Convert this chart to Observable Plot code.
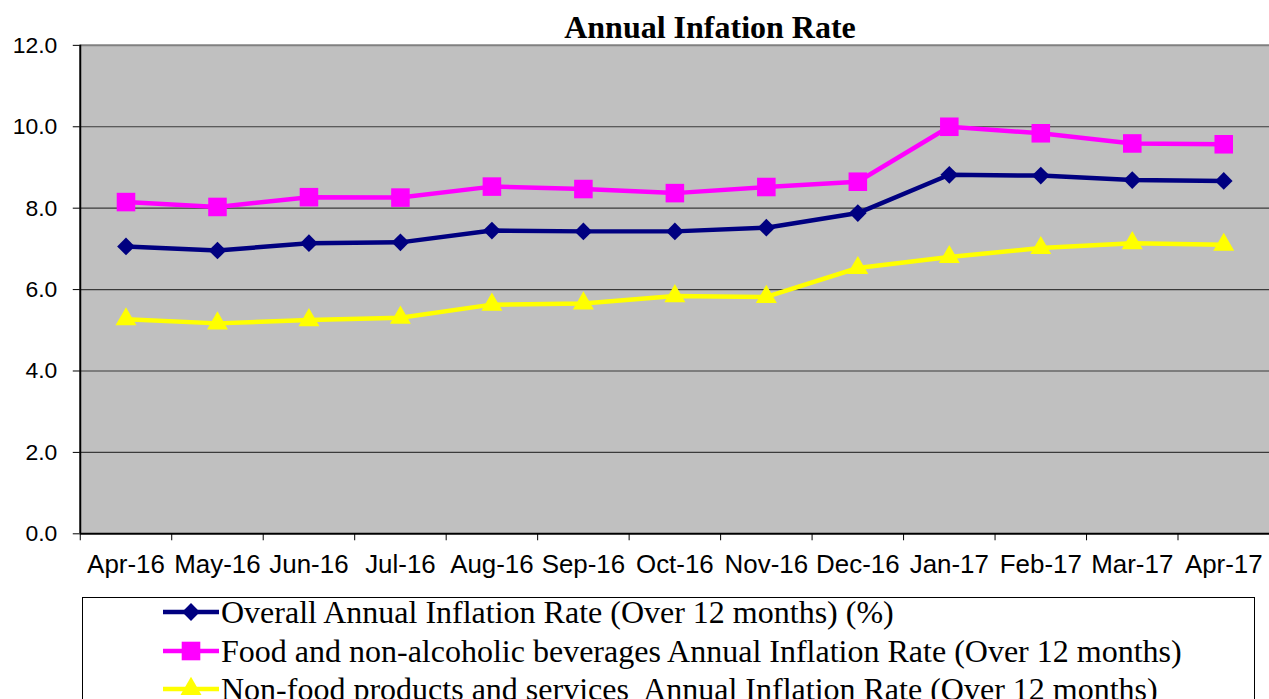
<!DOCTYPE html>
<html>
<head>
<meta charset="utf-8">
<script src="https://cdn.jsdelivr.net/npm/d3@7"></script>
<script src="https://cdn.jsdelivr.net/npm/@observablehq/plot@0.6"></script>
<style>
  html, body { margin: 0; padding: 0; background: #fff; overflow: hidden; width: 1269px; height: 699px; }
  #wrap { position: relative; width: 1269px; height: 699px; }
  #title { position: absolute; left: 0; top: 9px; width: 1420px; text-align: center;
    font-family: "Liberation Serif", "Times New Roman", serif; font-weight: bold; font-size: 32px; color: #000; line-height: 36px; }
  #chart { position: absolute; left: 0; top: 0; }
  #legend { position: absolute; left: 82px; top: 597px; width: 1173px; height: 120px;
    border: 1px solid #000; box-sizing: border-box; background: #fff; }
  .row { position: absolute; left: 80px; height: 38px; display: flex; align-items: center; white-space: nowrap;
    font-family: "Liberation Serif", "Times New Roman", serif; font-size: 32px; color: #000; }
  .row svg { margin-right: 2px; }
</style>
</head>
<body>
<div id="wrap">
  <div id="chart"></div>
  <div id="title">Annual Infation Rate</div>
  <div id="legend"></div>
</div>
<script>
const months = ["Apr-16","May-16","Jun-16","Jul-16","Aug-16","Sep-16","Oct-16","Nov-16","Dec-16","Jan-17","Feb-17","Mar-17","Apr-17"];
const overall = [7.06,6.96,7.14,7.16,7.45,7.43,7.43,7.52,7.88,8.82,8.80,8.69,8.67];
const food    = [8.15,8.03,8.27,8.26,8.53,8.47,8.37,8.52,8.65,10.00,9.84,9.59,9.57];
const nonfood = [5.27,5.17,5.25,5.31,5.63,5.66,5.84,5.82,6.53,6.80,7.02,7.14,7.10];
const seriesNames = [
  "Overall Annual Inflation Rate (Over 12 months) (%)",
  "Food and non-alcoholic beverages Annual Inflation Rate (Over 12 months)",
  "Non-food products and services  Annual Inflation Rate (Over 12 months)"
];
const yTicks = [0, 2, 4, 6, 8, 10, 12];

const colors = ["#000080", "#ff00ff", "#ffff00"];
const symbols = ["diamond2", "square", "triangle"];
const radii = [8, 10.5, 7.8];
const d3symbols = [d3.symbolDiamond2, d3.symbolSquare, d3.symbolTriangle];

const allSeries = [overall, food, nonfood];
const idx = months.map((m, i) => i);
const bounds = months.map((m, i) => i - 0.5).concat([months.length - 0.5]);

const lineMarks = [];
allSeries.forEach((vals, s) => {
  const data = vals.map((v, i) => ({i, v}));
  lineMarks.push(Plot.line(data, {x: "i", y: "v", stroke: colors[s], strokeWidth: 4.5, strokeLinejoin: "round"}));
  lineMarks.push(Plot.dot(data, {x: "i", y: "v", fill: colors[s], stroke: "none", symbol: symbols[s], r: radii[s]}));
});

const chart = Plot.plot({
  width: 1273,
  height: 580,
  marginTop: 45,
  marginBottom: 45,
  marginLeft: 80,
  marginRight: 0,
  style: {fontFamily: "'Liberation Sans', Arial, sans-serif", fontSize: "23px", color: "#000", background: "transparent", overflow: "visible"},
  x: {type: "linear", domain: [-0.5, months.length - 0.5], axis: null},
  y: {domain: [0, 12], axis: null},
  marks: [
    Plot.frame({fill: "#c0c0c0", stroke: null}),
    Plot.gridY(yTicks.filter(t => t > 0 && t < 12), {stroke: "#3a3a3a", strokeOpacity: 1, strokeWidth: 1.2}),
    Plot.ruleY([12], {stroke: "#808080", strokeWidth: 2}),
    Plot.axisY(yTicks, {label: null, tickSize: 7, tickPadding: 16, tickFormat: d3.format(".1f"), fontSize: 23, stroke: "#000"}),
    Plot.axisX(bounds, {label: null, tickSize: 7, tickFormat: () => "", stroke: "#000"}),
    Plot.axisX(idx, {label: null, tickSize: 0, tickPadding: 21, tickFormat: i => months[i], fontSize: 26}),
    ...lineMarks,
    Plot.ruleY([0], {stroke: "#000", strokeWidth: 2}),
    Plot.ruleX([-0.5], {y1: 0, y2: 12, stroke: "#000", strokeWidth: 2})
  ]
});
document.getElementById("chart").appendChild(chart);

// Legend
const legend = document.getElementById("legend");
const rowTops = [-5, 34, 72];
seriesNames.forEach((name, s) => {
  const row = document.createElement("div");
  row.className = "row";
  row.style.top = rowTops[s] + "px";
  const svg = d3.create("svg").attr("width", 56).attr("height", 30);
  svg.append("line").attr("x1", 0).attr("x2", 56).attr("y1", 15).attr("y2", 15)
    .attr("stroke", colors[s]).attr("stroke-width", 4.5);
  const size = Math.PI * radii[s] * radii[s];
  svg.append("path").attr("d", d3.symbol(d3symbols[s], size)()).attr("transform", "translate(28,15)")
    .attr("fill", colors[s]);
  row.appendChild(svg.node());
  const span = document.createElement("span");
  span.textContent = name;
  span.style.whiteSpace = "pre";
  row.appendChild(span);
  legend.appendChild(row);
});
</script>
</body>
</html>
